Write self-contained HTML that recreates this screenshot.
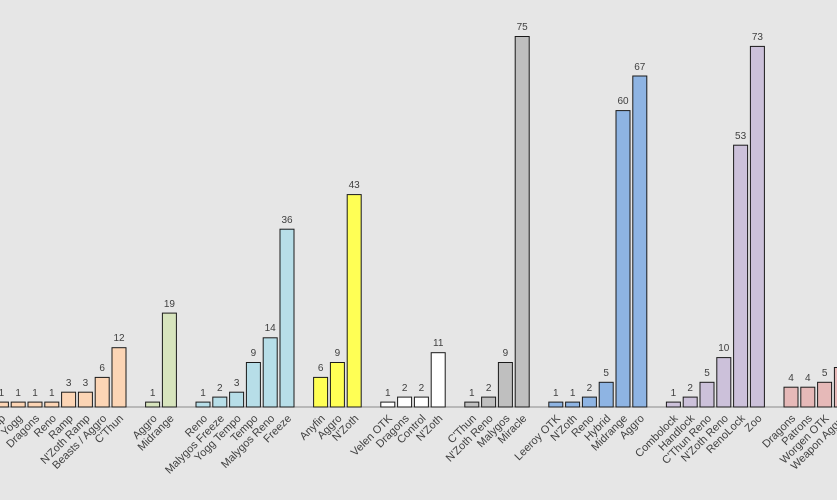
<!DOCTYPE html>
<html><head><meta charset="utf-8"><style>
html,body{margin:0;padding:0;background:#e6e6e6;}
svg{display:block;font-family:"Liberation Sans",Calibri,sans-serif;}
.v{font-size:10px;fill:#404040;text-anchor:middle;}
.l{font-size:11px;fill:#404040;text-anchor:end;}
.b rect{stroke:#1a1a1a;stroke-width:1;}
</style></head><body>
<svg width="837" height="500" viewBox="0 0 837 500">
<rect x="0" y="0" width="837" height="500" fill="#e6e6e6"/>
<line x1="0" y1="407" x2="837" y2="407" stroke="#8a8a8a" stroke-width="1"/>
<g class="b">
<g fill="#fcd5b5">
<rect x="-5.6" y="402.1" width="14" height="4.9"/><rect x="11.2" y="402.1" width="14" height="4.9"/><rect x="28" y="402.1" width="14" height="4.9"/><rect x="44.8" y="402.1" width="14" height="4.9"/><rect x="61.6" y="392.2" width="14" height="14.8"/><rect x="78.4" y="392.2" width="14" height="14.8"/><rect x="95.2" y="377.4" width="14" height="29.6"/><rect x="112" y="347.7" width="14" height="59.3"/>
</g>
<g fill="#d7e4bd"><rect x="145.6" y="402.1" width="14" height="4.9"/><rect x="162.4" y="313.1" width="14" height="93.9"/></g>
<g fill="#b7dee8"><rect x="196" y="402.1" width="14" height="4.9"/><rect x="212.8" y="397.1" width="14" height="9.9"/><rect x="229.6" y="392.2" width="14" height="14.8"/><rect x="246.4" y="362.5" width="14" height="44.5"/><rect x="263.2" y="337.8" width="14" height="69.2"/><rect x="280" y="229.2" width="14" height="177.8"/></g>
<g fill="#ffff55"><rect x="313.6" y="377.4" width="14" height="29.6"/><rect x="330.4" y="362.5" width="14" height="44.5"/><rect x="347.2" y="194.6" width="14" height="212.4"/></g>
<g fill="#ffffff"><rect x="380.8" y="402.1" width="14" height="4.9"/><rect x="397.6" y="397.1" width="14" height="9.9"/><rect x="414.4" y="397.1" width="14" height="9.9"/><rect x="431.2" y="352.7" width="14" height="54.3"/></g>
<g fill="#bfbfbf"><rect x="464.8" y="402.1" width="14" height="4.9"/><rect x="481.6" y="397.1" width="14" height="9.9"/><rect x="498.4" y="362.5" width="14" height="44.5"/><rect x="515.2" y="36.5" width="14" height="370.5"/></g>
<g fill="#8eb4e3"><rect x="548.8" y="402.1" width="14" height="4.9"/><rect x="565.6" y="402.1" width="14" height="4.9"/><rect x="582.4" y="397.1" width="14" height="9.9"/><rect x="599.2" y="382.3" width="14" height="24.7"/><rect x="616" y="110.6" width="14" height="296.4"/><rect x="632.8" y="76" width="14" height="331"/></g>
<g fill="#ccc1da"><rect x="666.4" y="402.1" width="14" height="4.9"/><rect x="683.2" y="397.1" width="14" height="9.9"/><rect x="700" y="382.3" width="14" height="24.7"/><rect x="716.8" y="357.6" width="14" height="49.4"/><rect x="733.6" y="145.2" width="14" height="261.8"/><rect x="750.4" y="46.4" width="14" height="360.6"/></g>
<g fill="#e6b9b8"><rect x="784" y="387.2" width="14" height="19.8"/><rect x="800.8" y="387.2" width="14" height="19.8"/><rect x="817.6" y="382.3" width="14" height="24.7"/><rect x="834.4" y="367.5" width="14" height="39.5"/></g>
</g>
<g class="v">
<text x="1.4" y="396">1</text><text x="18.2" y="396">1</text><text x="35" y="396">1</text><text x="51.8" y="396">1</text><text x="68.6" y="386">3</text><text x="85.4" y="386">3</text><text x="102.2" y="371">6</text><text x="119" y="341">12</text>
<text x="152.6" y="396">1</text><text x="169.4" y="307">19</text>
<text x="203" y="396">1</text><text x="219.8" y="391">2</text><text x="236.6" y="386">3</text><text x="253.4" y="356">9</text><text x="270.2" y="331">14</text><text x="287" y="223">36</text>
<text x="320.6" y="371">6</text><text x="337.4" y="356">9</text><text x="354.2" y="188">43</text>
<text x="387.8" y="396">1</text><text x="404.6" y="391">2</text><text x="421.4" y="391">2</text><text x="438.2" y="346">11</text>
<text x="471.8" y="396">1</text><text x="488.6" y="391">2</text><text x="505.4" y="356">9</text><text x="522.2" y="30">75</text>
<text x="555.8" y="396">1</text><text x="572.6" y="396">1</text><text x="589.4" y="391">2</text><text x="606.2" y="376">5</text><text x="623" y="104">60</text><text x="639.8" y="70">67</text>
<text x="673.4" y="396">1</text><text x="690.2" y="391">2</text><text x="707" y="376">5</text><text x="723.8" y="351">10</text><text x="740.6" y="139">53</text><text x="757.4" y="40">73</text>
<text x="791" y="381">4</text><text x="807.8" y="381">4</text><text x="824.6" y="376">5</text>
</g>
<g class="l">
<text transform="translate(6,419) rotate(-45)">Ramp</text>
<text transform="translate(23,419) rotate(-45)">Yogg</text>
<text transform="translate(40,419) rotate(-45)">Dragons</text>
<text transform="translate(56.8,419) rotate(-45)">Reno</text>
<text transform="translate(73.6,419) rotate(-45)">Ramp</text>
<text transform="translate(90.4,419) rotate(-45)">N'Zoth Ramp</text>
<text transform="translate(107.2,419) rotate(-45)">Beasts / Aggro</text>
<text transform="translate(124,419) rotate(-45)">C'Thun</text>
<text transform="translate(157.6,419) rotate(-45)">Aggro</text>
<text transform="translate(174.4,419) rotate(-45)">Midrange</text>
<text transform="translate(208,419) rotate(-45)">Reno</text>
<text transform="translate(224.8,419) rotate(-45)">Malygos Freeze</text>
<text transform="translate(241.6,419) rotate(-45)">Yogg Tempo</text>
<text transform="translate(258.4,419) rotate(-45)">Tempo</text>
<text transform="translate(275.2,419) rotate(-45)">Malygos Reno</text>
<text transform="translate(292,419) rotate(-45)">Freeze</text>
<text transform="translate(325.6,419) rotate(-45)">Anyfin</text>
<text transform="translate(342.4,419) rotate(-45)">Aggro</text>
<text transform="translate(359.2,419) rotate(-45)">N'Zoth</text>
<text transform="translate(392.8,419) rotate(-45)">Velen OTK</text>
<text transform="translate(409.6,419) rotate(-45)">Dragons</text>
<text transform="translate(426.4,419) rotate(-45)">Control</text>
<text transform="translate(443.2,419) rotate(-45)">N'Zoth</text>
<text transform="translate(476.8,419) rotate(-45)">C'Thun</text>
<text transform="translate(493.6,419) rotate(-45)">N'Zoth Reno</text>
<text transform="translate(510.4,419) rotate(-45)">Malygos</text>
<text transform="translate(527.2,419) rotate(-45)">Miracle</text>
<text transform="translate(560.8,419) rotate(-45)">Leeroy OTK</text>
<text transform="translate(577.6,419) rotate(-45)">N'Zoth</text>
<text transform="translate(594.4,419) rotate(-45)">Reno</text>
<text transform="translate(611.2,419) rotate(-45)">Hybrid</text>
<text transform="translate(628,419) rotate(-45)">Midrange</text>
<text transform="translate(644.8,419) rotate(-45)">Aggro</text>
<text transform="translate(678.4,419) rotate(-45)">Combolock</text>
<text transform="translate(695.2,419) rotate(-45)">Handlock</text>
<text transform="translate(712,419) rotate(-45)">C'Thun Reno</text>
<text transform="translate(728.8,419) rotate(-45)">N'Zoth Reno</text>
<text transform="translate(745.6,419) rotate(-45)">RenoLock</text>
<text transform="translate(762.4,419) rotate(-45)">Zoo</text>
<text transform="translate(796,419) rotate(-45)">Dragons</text>
<text transform="translate(812.8,419) rotate(-45)">Patrons</text>
<text transform="translate(829.6,419) rotate(-45)">Worgen OTK</text>
<text transform="translate(846.4,419) rotate(-45)">Weapon Aggro</text>
</g>
</svg>
</body></html>
